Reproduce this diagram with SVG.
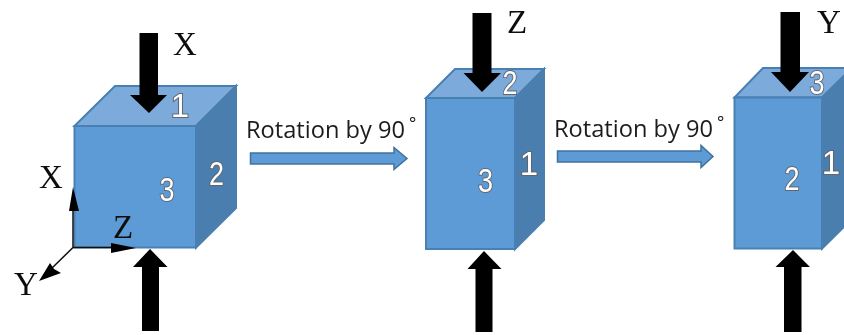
<svg xmlns="http://www.w3.org/2000/svg" width="844" height="335" viewBox="0 0 844 335">
<style>
.front{fill:#5b9bd5;stroke:#4a80b4;stroke-width:2}
.top{fill:#7caadb;stroke:#4a80b4;stroke-width:2}
.side{fill:#4a7eaf;stroke:#4a7eaf;stroke-width:2}
.num{font-family:"Liberation Sans",Arial,sans-serif;font-size:33px;fill:#fff;stroke:#5f6670;stroke-width:2px;paint-order:stroke;text-anchor:middle}
.axis{font-family:"Liberation Serif","Times New Roman",serif;font-size:33px;fill:#111}
.rot{font-family:"Open Sans","Noto Sans",sans-serif;font-size:23px;fill:#1c1c1c}
.deg{font-family:"Open Sans","Noto Sans",sans-serif;font-size:17px;fill:#1c1c1c}
.force{fill:#000}
.turn{fill:#5b9bd5;stroke:#41719c;stroke-width:1.5}
.thin{stroke:#111;stroke-width:1.5;fill:none}
.head{fill:#000}
</style>
<defs><filter id="soft" x="-5%" y="-5%" width="110%" height="110%"><feGaussianBlur stdDeviation="0.45"/></filter></defs>
<g filter="url(#soft)">
<g id="cube1">
<polygon class="top" points="74.500,126 115,86 236,86 196,126"/>
<polygon class="side" points="196,126 236,86 236,208 196,247.500"/>
<rect class="front" x="74.500" y="126" width="121.500" height="121.500"/>
<text class="num" x="180" y="117">1</text>
<text class="num" x="216.500" y="185" textLength="15" lengthAdjust="spacingAndGlyphs">2</text>
<text class="num" x="167" y="201" textLength="15" lengthAdjust="spacingAndGlyphs">3</text>
</g>
<g id="cube2">
<polygon class="top" points="426,98 455,69 544,69 515,98"/>
<polygon class="side" points="515,98 544,69 544,220 515,249"/>
<rect class="front" x="426" y="98" width="89" height="151"/>
<text class="num" x="510" y="94" textLength="15" lengthAdjust="spacingAndGlyphs">2</text>
<text class="num" x="529" y="175">1</text>
<text class="num" x="485.500" y="192" textLength="15" lengthAdjust="spacingAndGlyphs">3</text>
</g>
<g id="cube3">
<polygon class="top" points="734.500,97.500 763,68 852,68 822,97.500"/>
<polygon class="side" points="822,97.500 852,68 852,219 822,248.500"/>
<rect class="front" x="734.500" y="97.500" width="87.500" height="151"/>
<text class="num" x="817" y="94" textLength="15" lengthAdjust="spacingAndGlyphs">3</text>
<text class="num" x="831" y="174">1</text>
<text class="num" x="792" y="190" textLength="15" lengthAdjust="spacingAndGlyphs">2</text>
</g>
<g id="connectors">
<polygon class="force" points="139.500,33 158,33 158,95 167,95 149,113 130,95 139.500,95"/>
<polygon class="force" points="142,331 159,331 159,267 167.500,267 150,249 133,267 142,267"/>
<polygon class="force" points="472.500,13 491.500,13 491.500,73 501,73 482,92 463.500,73 472.500,73"/>
<polygon class="force" points="475.500,332 492.500,332 492.500,269 501.500,269 484,251 467.500,269 475.500,269"/>
<polygon class="force" points="780.500,12 800,12 800,72 809,72 790,92 771,72 780.500,72"/>
<polygon class="force" points="784,332 801.500,332 801.500,267 810,267 793,250 775.500,267 784,267"/>
<polygon class="turn" points="250.500,153 394,153 394,147.500 407,158.500 394,169.500 394,164 250.500,164"/>
<polygon class="turn" points="557.500,151 701,151 701,145.500 713,156.500 701,167.500 701,162 557.500,162"/>
<path class="thin" d="M73,247.500V205M73,247.500H118M73,247.500L50,270"/>
<polygon class="head" points="73,187 79,211 69,211"/>
<polygon class="head" points="136,248 111,243 111,253"/>
<polygon class="head" points="39,281 50,263 54,269 61,273"/>
</g>
<g id="labels">
<text class="axis" x="173" y="55">X</text>
<text class="axis" x="39" y="188">X</text>
<text class="axis" x="113" y="238">Z</text>
<text class="axis" x="14" y="295">Y</text>
<text class="axis" x="507" y="33">Z</text>
<text class="axis" x="817" y="33">Y</text>
<text class="rot" x="246" y="138" textLength="159" lengthAdjust="spacingAndGlyphs">Rotation by 90</text>
<text class="deg" x="409" y="129">°</text>
<text class="rot" x="554" y="137" textLength="159" lengthAdjust="spacingAndGlyphs">Rotation by 90</text>
<text class="deg" x="717" y="128">°</text>
</g>
</g>
</svg>
